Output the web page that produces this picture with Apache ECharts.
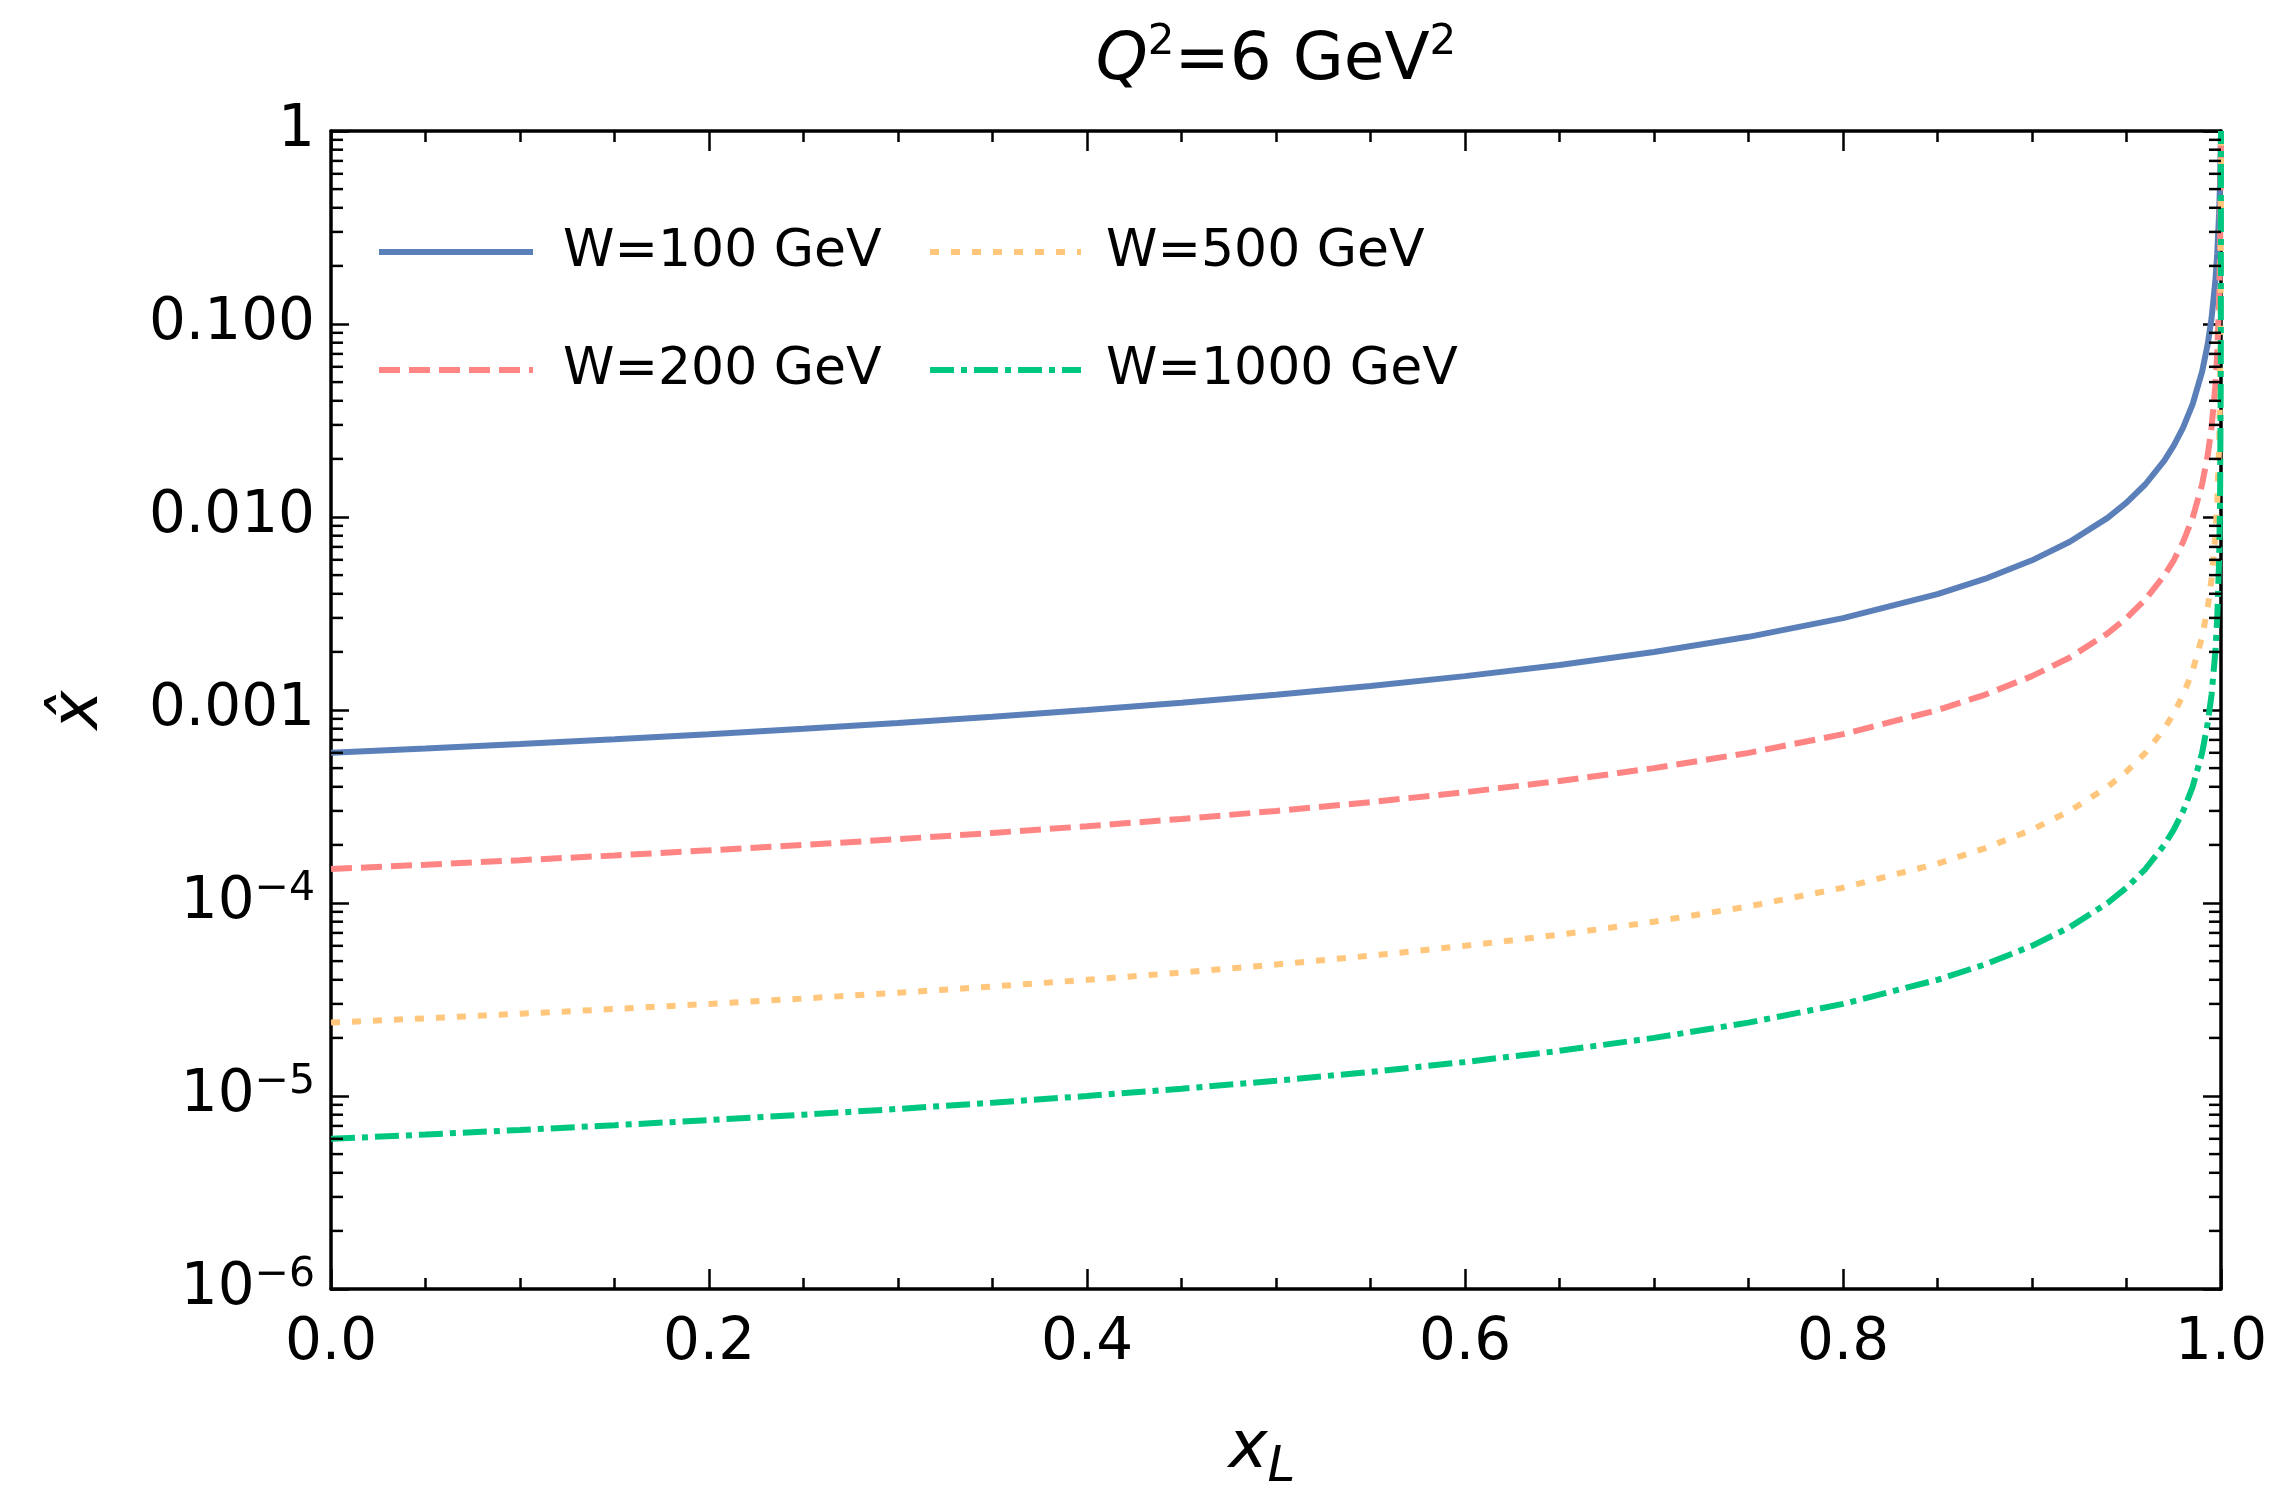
<!DOCTYPE html>
<html>
<head>
<meta charset="utf-8">
<script src="https://cdn.jsdelivr.net/npm/echarts@6/dist/echarts.min.js"></script>
<style>
html,body{margin:0;padding:0;background:#fff;}
#chart{width:2279px;height:1498px;}
</style>
</head>
<body>
<div id="chart"></div>
<script>
// ---- data ----
const xL = [0,0.05,0.1,0.15,0.2,0.25,0.3,0.35,0.4,0.45,0.5,0.55,0.6,0.65,0.7,0.75,0.8,0.85,
  0.875,0.9,0.92,0.94,0.95,0.96,0.97,0.975,0.98,0.985,0.99,0.993,0.995,0.997,0.998,0.999,0.9995,0.9999,1];

const w100 = [6.00e-4,6.31e-4,6.66e-4,7.05e-4,7.49e-4,7.99e-4,8.56e-4,9.22e-4,9.99e-4,1.090e-3,1.199e-3,1.332e-3,
  1.498e-3,1.711e-3,1.996e-3,2.394e-3,2.991e-3,3.984e-3,
  4.777e-3,5.964e-3,7.44e-3,9.90e-3,1.186e-2,1.478e-2,1.961e-2,2.344e-2,2.913e-2,3.846e-2,5.66e-2,7.89e-2,
  0.1071,0.1667,0.2308,0.375,0.5455,0.857,1];

const w200 = [1.50e-4,1.579e-4,1.666e-4,1.764e-4,1.875e-4,2.000e-4,2.142e-4,2.307e-4,2.499e-4,2.727e-4,2.999e-4,3.332e-4,
  3.749e-4,4.284e-4,4.998e-4,5.996e-4,7.494e-4,9.99e-4,
  1.1986e-3,1.498e-3,1.871e-3,2.494e-3,2.991e-3,3.736e-3,4.975e-3,5.964e-3,7.444e-3,9.90e-3,1.478e-2,2.098e-2,
  2.913e-2,4.762e-2,6.977e-2,0.1304,0.2308,0.6,1];

const w500 = [2.40e-5,2.526e-5,2.667e-5,2.823e-5,3.000e-5,3.200e-5,3.428e-5,3.692e-5,4.000e-5,4.363e-5,4.800e-5,5.333e-5,
  6.000e-5,6.857e-5,7.999e-5,9.599e-5,1.200e-4,1.600e-4,
  1.9196e-4,2.399e-4,2.999e-4,3.998e-4,4.798e-4,5.996e-4,7.994e-4,9.591e-4,1.1986e-3,1.597e-3,2.394e-3,3.417e-3,
  4.777e-3,7.937e-3,1.186e-2,2.344e-2,4.58e-2,0.1935,1];

const w1000 = [6.00e-6,6.316e-6,6.667e-6,7.059e-6,7.500e-6,8.000e-6,8.571e-6,9.231e-6,1.000e-5,1.091e-5,1.200e-5,1.333e-5,
  1.500e-5,1.714e-5,2.000e-5,2.400e-5,3.000e-5,4.000e-5,
  4.800e-5,6.000e-5,7.499e-5,9.999e-5,1.200e-4,1.500e-4,2.000e-4,2.399e-4,2.999e-4,3.998e-4,5.996e-4,8.564e-4,
  1.1986e-3,1.996e-3,2.991e-3,5.964e-3,1.186e-2,5.66e-2,1];

const seriesNames = ['W=100 GeV','W=200 GeV','W=500 GeV','W=1000 GeV'];
const xTickLabels = ['0.0','0.2','0.4','0.6','0.8','1.0'];
const yTickExponents = [0,-1,-2,-3,-4,-5,-6];
const yTickLabels = ['1','0.100','0.010','0.001','{b|10}{s|\u22124}','{b|10}{s|\u22125}','{b|10}{s|\u22126}'];
const minorMultipliers = [2,3,4,5,6,7,8,9];
const decades = [-6,-5,-4,-3,-2,-1];

// ---- styling ----
const FONT = 'DejaVu Sans';
const colors = ['#5B80B9','#FF8484','#FFC67C','#00C780'];
const dashes = ['solid',[21,9],[9,12],[24,7,6,7]];
const LW = 6;
const MINOR_LEN = 12;

// minor tick positions of the log axis (2..9 x 10^k)
const minorTickValues = [];
decades.forEach(d => minorMultipliers.forEach(m => minorTickValues.push([0, m * Math.pow(10, d)])));

function pairs(vals){ return xL.map((x,i)=>[x, vals[i]]); }
const allVals = [w100, w200, w500, w1000];

const axisLineStyle = {color:'#000', width:3.5};
const tickStyle = {color:'#000', width:2.5};

function xAxisCfg(pos, labels){
  return {
    type:'value', gridIndex:0, position:pos, min:0, max:1, interval:0.2,
    axisLine:{show:true, onZero:false, lineStyle:axisLineStyle},
    axisTick:{show:true, inside:true, length:20, lineStyle:tickStyle},
    minorTick:{show:true, splitNumber:4, length:11, lineStyle:tickStyle},
    splitLine:{show:false}, minorSplitLine:{show:false},
    axisLabel: labels ? {
      show:true, margin:26, fontSize:58, color:'#000', fontFamily:FONT,
      formatter: v => xTickLabels[Math.round(v/0.2)]
    } : {show:false}
  };
}

function yLogCfg(pos, labels){
  return {
    type:'log', logBase:10, gridIndex:0, position:pos, min:1e-6, max:1,
    axisLine:{show:true, onZero:false, lineStyle:axisLineStyle},
    axisTick:{show:true, inside:true, length:18, lineStyle:tickStyle},
    splitLine:{show:false},
    axisLabel: labels ? {
      show:true, margin:16, fontSize:58, color:'#000', fontFamily:FONT,
      formatter: v => { const e = Math.round(Math.log10(v)); return yTickLabels[yTickExponents.indexOf(e)]; },
      rich:{
        b:{fontSize:58, lineHeight:68, fontFamily:FONT, color:'#000'},
        s:{fontSize:41, lineHeight:41, fontFamily:FONT, color:'#000', verticalAlign:'top'}
      }
    } : {show:false}
  };
}

const xMain = xAxisCfg('bottom', true);
xMain.name = '{x|x}{l|L}';
xMain.nameLocation = 'middle';
xMain.nameGap = 118;
xMain.nameTextStyle = {
  rich:{
    x:{fontSize:66, lineHeight:86, fontStyle:'italic', fontFamily:FONT, color:'#000'},
    l:{fontSize:50, lineHeight:50, fontStyle:'italic', fontFamily:FONT, color:'#000', verticalAlign:'bottom', padding:[0,28,0,0]}
  }
};

const yMain = yLogCfg('left', true);
yMain.name = 'x\u0302';
yMain.nameLocation = 'middle';
yMain.nameGap = 218;
yMain.nameTextStyle = {fontSize:66, lineHeight:66, fontStyle:'italic', fontFamily:FONT, color:'#000'};

function legendCfg(names, left, iw, pad){
  return {
    data:names, left:left, orient:'vertical', top:226, padding:0,
    itemWidth:iw, itemHeight:20, itemGap:66, selectedMode:false,
    lineStyle:{width:LW},
    itemStyle:{opacity:0},
    textStyle:{fontSize:52, color:'#000', fontFamily:FONT, padding:[0,0,0,pad]}
  };
}

const lineSeries = seriesNames.map((n,i)=>({
  name:n, type:'line', xAxisIndex:0, yAxisIndex:0,
  data:pairs(allVals[i]), symbol:'none', showSymbol:false, smooth:false,
  lineStyle:{color:colors[i], width:LW, type:dashes[i], cap:'butt'},
  itemStyle:{color:colors[i]},
  z:2+i
}));

const minorTickSeries = {
  name:'minorTicks', type:'custom', xAxisIndex:0, yAxisIndex:0,
  data:minorTickValues, clip:false, silent:true, z:20,
  encode:{x:0, y:1},
  renderItem:(params, api) => {
    const v = api.value(1);
    const pL = api.coord([0, v]);
    const pR = api.coord([1, v]);
    return {type:'group', children:[
      {type:'line', shape:{x1:pL[0], y1:pL[1], x2:pL[0] + MINOR_LEN, y2:pL[1]}, style:{stroke:'#000', lineWidth:2.5}},
      {type:'line', shape:{x1:pR[0] - MINOR_LEN, y1:pR[1], x2:pR[0], y2:pR[1]}, style:{stroke:'#000', lineWidth:2.5}}
    ]};
  }
};

const option = {
  animation:false,
  backgroundColor:'#ffffff',
  textStyle:{fontFamily:FONT, color:'#000'},
  title:{
    text:'{q|Q}{s|2}{n|=6 GeV}{s|2}',
    left:1276, top:22, textAlign:'center', padding:0,
    textStyle:{
      fontWeight:'normal',
      rich:{
        q:{fontSize:66, lineHeight:79, fontStyle:'italic', fontWeight:'normal', fontFamily:FONT, color:'#000'},
        n:{fontSize:66, lineHeight:79, fontWeight:'normal', fontFamily:FONT, color:'#000'},
        s:{fontSize:42, lineHeight:42, fontWeight:'normal', fontFamily:FONT, color:'#000', verticalAlign:'top'}
      }
    }
  },
  grid:{left:331, top:131, width:1890, height:1170, containLabel:false},
  legend:[
    legendCfg([seriesNames[0], seriesNames[1]], 376, 154, 25),
    legendCfg([seriesNames[2], seriesNames[3]], 927, 151, 20)
  ],
  xAxis:[xMain, xAxisCfg('top', false)],
  yAxis:[yMain, yLogCfg('right', false)],
  series: lineSeries.concat([minorTickSeries])
};

const chart = echarts.init(document.getElementById('chart'), null, {renderer:'canvas'});
chart.setOption(option);
</script>
</body>
</html>
